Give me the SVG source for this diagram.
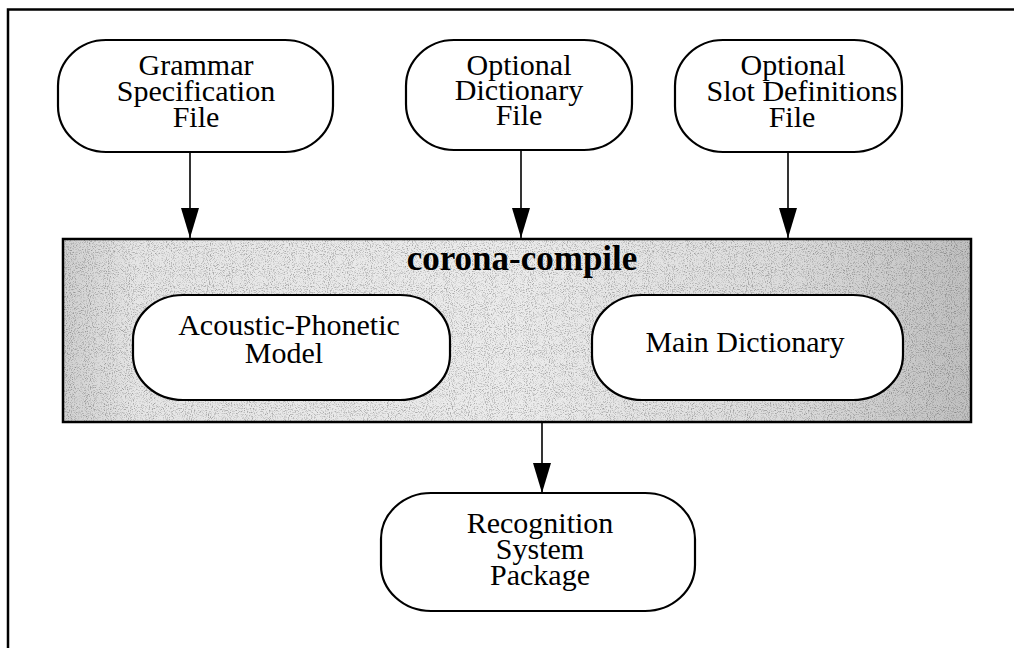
<svg xmlns="http://www.w3.org/2000/svg" width="1014" height="648" viewBox="0 0 1014 648">
<style>
.node{fill:#fff;stroke:#000;stroke-width:2.2}
.lbl{font-family:"Liberation Serif","Times New Roman",serif;font-size:30px;fill:#000;text-anchor:middle}
.title{font-family:"Liberation Serif","Times New Roman",serif;font-size:35px;font-weight:bold;fill:#000;text-anchor:middle}
.edge{stroke:#000;stroke-width:1.6;fill:none;marker-end:url(#arr)}
.frame{stroke:#000;stroke-width:2.5;fill:none}
</style>
<defs>
<marker id="arr" markerUnits="userSpaceOnUse" markerWidth="30" markerHeight="18" refX="30" refY="9" orient="auto" viewBox="0 0 30 18">
<path d="M0,0 L30,9 L0,18 Z" fill="#000"/>
</marker>
<linearGradient id="gbox" x1="0" y1="0" x2="1" y2="0">
<stop offset="0" stop-color="#d0d0d0"/>
<stop offset="0.08" stop-color="#e6e6e6"/>
<stop offset="0.5" stop-color="#ececec"/>
<stop offset="0.8" stop-color="#dcdcdc"/>
<stop offset="1" stop-color="#c0c0c0"/>
</linearGradient>
<filter id="noise" x="0" y="0" width="100%" height="100%">
<feTurbulence type="fractalNoise" baseFrequency="0.95" numOctaves="2" seed="4" result="t"/>
<feColorMatrix in="t" type="matrix" values="0 0 0 0 0  0 0 0 0 0  0 0 0 0 0  -3 0 0 0 1.55"/>
</filter>
</defs>
<rect width="1014" height="648" fill="#fff"/>
<g id="frame">
<path class="frame" d="M8,648 L8,9.5 L1014,9.5"/>
</g>
<g id="corona-compile">
<rect x="63" y="239" width="908" height="183" fill="url(#gbox)"/>
<rect x="63" y="239" width="908" height="183" fill="#000" filter="url(#noise)" opacity="0.3"/>
<rect x="63" y="239" width="908" height="183" fill="none" stroke="#000" stroke-width="2.5"/>
<text class="title" x="522" y="270">corona-compile</text>
</g>
<g id="grammar">
<rect class="node" x="58" y="40" width="275" height="112" rx="48" ry="46"/>
<text class="lbl" x="196" y="75">Grammar</text>
<text class="lbl" x="196" y="101">Specification</text>
<text class="lbl" x="196" y="127">File</text>
</g>
<g id="dictionary">
<rect class="node" x="406" y="40" width="226" height="110" rx="48" ry="46"/>
<text class="lbl" x="519" y="75">Optional</text>
<text class="lbl" x="519" y="100">Dictionary</text>
<text class="lbl" x="519" y="125">File</text>
</g>
<g id="slots">
<rect class="node" x="675" y="40" width="227" height="112" rx="48" ry="46"/>
<text class="lbl" x="793" y="75">Optional</text>
<text class="lbl" x="802" y="101">Slot Definitions</text>
<text class="lbl" x="792" y="127">File</text>
</g>
<g id="acoustic">
<rect class="node" x="133" y="295" width="317" height="105" rx="50" ry="45"/>
<text class="lbl" x="289" y="335">Acoustic-Phonetic</text>
<text class="lbl" x="284" y="363">Model</text>
</g>
<g id="maindict">
<rect class="node" x="592" y="295" width="311" height="105" rx="50" ry="45"/>
<text class="lbl" x="745" y="352">Main Dictionary</text>
</g>
<g id="package">
<rect class="node" x="381" y="493" width="314" height="118" rx="50" ry="46"/>
<text class="lbl" x="540" y="533">Recognition</text>
<text class="lbl" x="540" y="559">System</text>
<text class="lbl" x="540" y="585">Package</text>
</g>
<g id="connectors">
<line class="edge" x1="190" y1="152" x2="190" y2="238"/>
<line class="edge" x1="521" y1="150" x2="521" y2="238"/>
<line class="edge" x1="788" y1="152" x2="788" y2="238"/>
<line class="edge" x1="542" y1="422" x2="542" y2="493"/>
</g>
</svg>
